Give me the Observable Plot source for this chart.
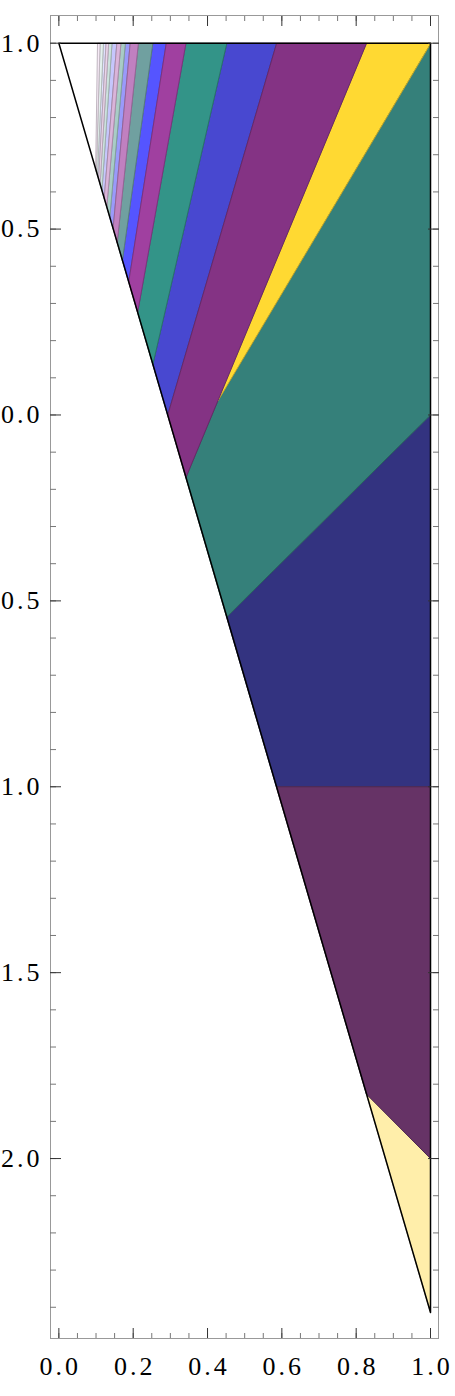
<!DOCTYPE html>
<html>
<head>
<meta charset="utf-8">
<script src="https://cdn.jsdelivr.net/npm/d3@7"></script>
<script src="https://cdn.jsdelivr.net/npm/@observablehq/plot@0.6"></script>
<style>
  html, body { margin: 0; padding: 0; background: #fff; }
  #chart svg text {
    font-family: "Liberation Serif", "Times New Roman", serif !important;
    font-size: 26px !important;
    letter-spacing: 3px;
    fill: #000;
  }
</style>
</head>
<body>
<div id="chart"></div>
<script>
// Outer triangle (corners)
const triX = [0, 1, 1];
const triY = [1, 1, -2.414];

// Points where region boundaries meet the slanted edge
const hypX = [0.828, 0.586, 0.452, 0.342, 0.293, 0.253, 0.212, 0.188, 0.171, 0.157,
              0.146, 0.137, 0.129, 0.122, 0.116, 0.111, 0.107, 0.104, 0.101, 0.099];
const hypY = [-1.827, -1.0, -0.543, -0.168, 0.0, 0.136, 0.276, 0.358, 0.416, 0.464,
              0.502, 0.532, 0.560, 0.583, 0.604, 0.621, 0.635, 0.645, 0.655, 0.662];
// Other ends of those boundaries (right edge or top edge)
const endX = [1, 1, 1, 0.828, 0.586, 0.452, 0.342, 0.289, 0.253, 0.214,
              0.192, 0.179, 0.167, 0.156, 0.143, 0.134, 0.127, 0.120, 0.111, 0.104];
const endY = [-2, -1, 0, 1, 1, 1, 1, 1, 1, 1, 1, 1, 1, 1, 1, 1, 1, 1, 1, 1];
// Tip of the yellow wedge
const tipX = 0.428, tipY = 0.038;

// Region fills, in region order
const regionColors = ["#FFEEAA", "#663366", "#333380", "#35807A", "#FFD932",
  "#843384", "#4848D0", "#339488", "#A040A0", "#5555FF", "#70A0A0",
  "#C080C0", "#9A9AFA", "#A8CCC6", "#DAB4DA", "#C6C6FC", "#CCE2DE",
  "#EAD4EA", "#E0E0FE", "#E4F0EE", "#F6EAF6"];
// Drawing layer (edges of later layers are on top)
const regionLayer = [0, 5, 1, 3, 4, 5, 2, 3, 5, 2, 3, 5, 2, 3, 5, 2, 3, 5, 2, 3, 5];

// Ticks
const xMajor = [0, 0.2, 0.4, 0.6, 0.8, 1.0];
const xMinor = d3.range(0, 21).map(i => i / 20);
const yMajor = [1.0, 0.5, 0.0, -0.5, -1.0, -1.5, -2.0];
const yMinor = d3.range(-24, 11).map(i => i / 10);

// Build polygons
const P = (x, y) => ({x, y});
const H = k => P(hypX[k], hypY[k]);
const E = k => P(endX[k], endY[k]);
const polys = [];
polys.push([H(0), E(0), P(triX[2], triY[2])]);               // light yellow
polys.push([H(1), E(1), E(0), H(0)]);                         // dark purple
polys.push([H(2), E(2), E(1), H(1)]);                         // navy
polys.push([H(3), P(tipX, tipY), P(triX[1], triY[1]), E(2), H(2)]); // teal
polys.push([P(tipX, tipY), E(3), P(triX[1], triY[1])]);      // yellow
for (let k = 3; k < hypX.length - 1; k++) {
  polys.push([H(k + 1), E(k + 1), E(k), H(k)]);
}

const order = d3.range(polys.length).sort((a, b) => regionLayer[a] - regionLayer[b] || a - b);
const regionMarks = order.map(i => Plot.line(polys[i], {
  x: "x", y: "y", curve: "linear-closed",
  fill: regionColors[i],
  stroke: d3.color(regionColors[i]).darker(0.7).formatHex(),
  strokeWidth: 1
}));

const tri = triX.map((x, i) => ({x, y: triY[i]}));
const fmt = d => d.toFixed(1);

const chart = Plot.plot({
  width: 455,
  height: 1396,
  marginLeft: 50,
  marginRight: 17,
  marginTop: 15,
  marginBottom: 58,
  x: {domain: [-0.0225, 1.0215]},
  y: {domain: [-2.484, 1.0745]},
  style: {background: "#fff", color: "#000"},
  marks: [
    ...regionMarks,
    Plot.line(tri, {x: "x", y: "y", curve: "linear-closed", stroke: "#000", strokeWidth: 1.5}),
    Plot.frame({stroke: "#999"}),
    // bottom / top x ticks
    Plot.axisX(xMinor, {anchor: "bottom", tickSize: -5, tickFormat: () => "", stroke: "#777", label: null}),
    Plot.axisX(xMajor, {anchor: "bottom", tickSize: -10, tickFormat: () => "", stroke: "#333", label: null}),
    Plot.axisX(xMinor, {anchor: "top", tickSize: -5, tickFormat: () => "", stroke: "#777", label: null}),
    Plot.axisX(xMajor, {anchor: "top", tickSize: -10, tickFormat: () => "", stroke: "#333", label: null}),
    Plot.axisX(xMajor, {anchor: "bottom", tickSize: 0, tickPadding: 18, dx: 1.5, tickFormat: fmt, label: null}),
    // left / right y ticks
    Plot.axisY(yMinor, {anchor: "left", tickSize: -6, tickFormat: () => "", stroke: "#777", label: null}),
    Plot.axisY(yMajor, {anchor: "left", tickSize: -11, tickFormat: () => "", stroke: "#333", label: null}),
    Plot.axisY(yMinor, {anchor: "right", tickSize: -6, tickFormat: () => "", stroke: "#777", label: null}),
    Plot.axisY(yMajor, {anchor: "right", tickSize: -11, tickFormat: () => "", stroke: "#333", label: null}),
    Plot.axisY(yMajor, {anchor: "left", tickSize: 0, tickPadding: 8, tickFormat: fmt, label: null})
  ]
});
document.getElementById("chart").appendChild(chart);
</script>
</body>
</html>
